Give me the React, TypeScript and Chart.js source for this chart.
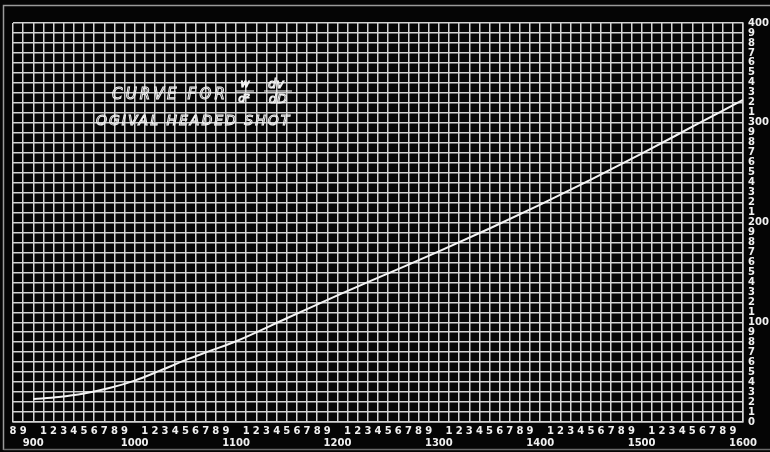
import React, { useEffect, useRef } from 'react';
import { Chart, registerables } from 'chart.js';

Chart.register(...registerables);

// Striking velocity (ft/s) on the x axis
const velocities = [900, 925, 950, 975, 1000, 1025, 1050, 1075, 1100, 1150, 1200, 1250, 1300, 1350, 1400, 1450, 1500, 1550, 1600];
// Curve value (w/d² · dv/dD)
const curveValues = [23, 25, 28.5, 34, 41.5, 51.5, 62, 71.5, 81, 104, 127, 149, 171, 194, 218, 243, 269, 296, 323];

const xMin = 880;
const xMax = 1600;
const xStep = 10;
const yMin = 0;
const yMax = 400;
const yStep = 10;

const titleLine1 = 'CURVE FOR';
const fractionA = ['w', 'd²'];
const fractionB = ['dv', 'dD'];
const titleLine2 = 'OGIVAL HEADED SHOT';

const backgroundPlugin = {
  id: 'bgFrame',
  beforeDraw(chart: any) {
    const { ctx, width, height } = chart;
    ctx.save();
    ctx.fillStyle = '#050505';
    ctx.fillRect(0, 0, width, height);
    ctx.strokeStyle = '#9a9a9a';
    ctx.lineWidth = 1.5;
    ctx.beginPath();
    ctx.moveTo(3.5, height - 2);
    ctx.lineTo(3.5, 5.5);
    ctx.lineTo(width, 5.5);
    ctx.stroke();
    ctx.strokeStyle = '#6a6a6a';
    ctx.beginPath();
    ctx.moveTo(3.5, height - 2.5);
    ctx.lineTo(width, height - 2.5);
    ctx.stroke();
    ctx.restore();
  },
};

const titlePlugin = {
  id: 'handTitle',
  afterDraw(chart: any) {
    const { ctx } = chart;
    ctx.save();
    ctx.strokeStyle = '#f2f2f2';
    ctx.fillStyle = '#f2f2f2';
    ctx.lineWidth = 1;
    ctx.textBaseline = 'alphabetic';
    ctx.textAlign = 'left';
    // line 1
    ctx.font = 'italic 15px "DejaVu Sans"';
    (ctx as any).letterSpacing = '3.2px';
    ctx.strokeText(titleLine1, 112, 99);
    // fraction A
    ctx.font = 'italic 11px "DejaVu Sans"';
    (ctx as any).letterSpacing = '0px';
    ctx.textAlign = 'center';
    ctx.strokeText(fractionA[0], 245, 87);
    ctx.strokeText(fractionA[1], 244, 102);
    ctx.beginPath();
    ctx.moveTo(236, 91);
    ctx.lineTo(254, 91);
    ctx.stroke();
    // fraction B
    ctx.font = 'italic 13px "DejaVu Sans"';
    ctx.strokeText(fractionB[0], 276, 88);
    ctx.strokeText(fractionB[1], 278, 103);
    ctx.beginPath();
    ctx.moveTo(264, 91);
    ctx.lineTo(292, 91);
    ctx.stroke();
    // line 2
    ctx.textAlign = 'left';
    ctx.font = 'italic 14px "DejaVu Sans"';
    (ctx as any).letterSpacing = '2px';
    ctx.strokeText(titleLine2, 96, 125);
    ctx.restore();
  },
};

export default function App() {
  const canvasRef = useRef<HTMLCanvasElement | null>(null);

  useEffect(() => {
    document.body.style.margin = '0';
    document.body.style.background = '#050505';
    const canvas = canvasRef.current;
    if (!canvas) return;
    const data = velocities.map((v, i) => ({ x: v, y: curveValues[i] }));
    const gridColor = '#d4d4d4';
    const chart = new Chart(canvas, {
      type: 'line',
      data: {
        datasets: [
          {
            data,
            borderColor: '#f4f4f4',
            borderWidth: 2,
            pointRadius: 0,
            fill: false,
            cubicInterpolationMode: 'monotone',
          },
        ],
      },
      options: {
        animation: false,
        responsive: false,
        maintainAspectRatio: false,
        layout: { padding: { left: 13, top: 23, right: 0, bottom: 0 } },
        plugins: { legend: { display: false }, tooltip: { enabled: false }, title: { display: false } },
        scales: {
          x: {
            type: 'linear',
            min: xMin,
            max: xMax,
            afterFit(scale: any) {
              scale.height = 30;
            },
            ticks: {
              stepSize: xStep,
              autoSkip: false,
              maxRotation: 0,
              minRotation: 0,
              padding: 3,
              color: '#f0f0f0',
              font: { family: '"DejaVu Sans"', size: 10, weight: 'bold', lineHeight: 1.25 },
              callback(value: any) {
                const v = Math.round(Number(value));
                if (v % 100 === 0) return ['', String(v)];
                return [String((v / 10) % 10)];
              },
            },
            grid: { color: gridColor, lineWidth: 1.5, drawTicks: false },
            border: { color: gridColor, width: 1.5 },
          },
          y: {
            type: 'linear',
            position: 'right',
            min: yMin,
            max: yMax,
            afterFit(scale: any) {
              scale.width = 27;
            },
            ticks: {
              stepSize: yStep,
              autoSkip: false,
              padding: 5,
              color: '#f0f0f0',
              font: { family: '"DejaVu Sans"', size: 10, weight: 'bold' },
              callback(value: any) {
                const v = Math.round(Number(value));
                if (v % 100 === 0) return String(v);
                return String((v / 10) % 10);
              },
            },
            grid: { color: gridColor, lineWidth: 1.5, drawTicks: false },
            border: { color: gridColor, width: 1.5 },
          },
        },
      } as any,
      plugins: [backgroundPlugin, titlePlugin],
    });
    return () => chart.destroy();
  }, []);

  return (
    <div style={{ position: 'fixed', left: 0, top: 0, width: 770, height: 452, background: '#050505' }}>
      <canvas ref={canvasRef} width={770} height={452} style={{ width: 770, height: 452, display: 'block' }} />
    </div>
  );
}
